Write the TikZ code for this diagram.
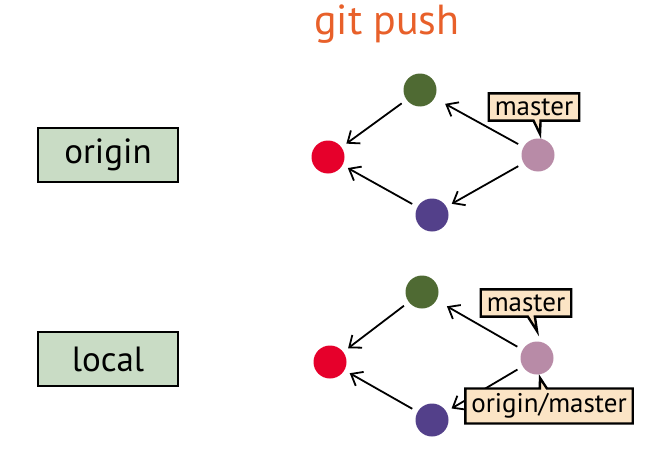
\documentclass[tikz,border=0pt]{standalone}
\usepackage{fontspec}
\setmainfont{PT Sans}
\usetikzlibrary{arrows.meta,shapes.callouts}
\definecolor{pushorange}{HTML}{E8602A}
\definecolor{cred}{HTML}{E6002B}
\definecolor{cgreen}{HTML}{4F6A33}
\definecolor{cpink}{HTML}{B88BA7}
\definecolor{cviolet}{HTML}{53408A}
\definecolor{repofill}{HTML}{C9DCC5}
\definecolor{tagfill}{HTML}{FBE4C5}
\tikzset{
  commit/.style={circle,minimum size=33pt,inner sep=0pt},
  repo/.style={draw=black,line width=2.6pt,fill=repofill,minimum width=140pt,
    minimum height=54pt,font=\fontsize{35}{38}\selectfont},
  tag/.style={rectangle callout,draw=black,line width=2.4pt,fill=tagfill,
    inner xsep=6pt,inner ysep=5pt,font=\fontsize{27}{30}\selectfont},
  link/.style={-{Straight Barb[length=10pt,width=16pt]},line width=1.8pt,
    shorten <=6pt,shorten >=6pt},
}
\begin{document}
\begin{tikzpicture}[x=1pt,y=-1pt]
  \useasboundingbox (0,0) rectangle (658,452);
  \node[text=pushorange,font=\fontsize{42}{46}\selectfont] (title) at (387,24) {git push};
  % repositories
  \node[repo] (origin) at (108,155) {origin};
  \node[repo] (local) at (108,359) {local};
  % origin history
  \draw
    (328,157) node[commit,fill=cred] (oa){}
    (420,90) node[commit,fill=cgreen] (ob){}
    (432,215) node[commit,fill=cviolet] (oc){}
    (538,155) node[commit,fill=cpink] (od){};
  % local history
  \draw
    (330,362) node[commit,fill=cred] (la){}
    (422,292) node[commit,fill=cgreen] (lb){}
    (432,420) node[commit,fill=cviolet] (lc){}
    (537,358) node[commit,fill=cpink] (ld){};
  \begin{scope}[link]
    \draw (ob) to (oa);
    \draw (oc) to (oa);
    \draw[shorten >=12pt] (od) to (ob);
    \draw (od) to (oc);
    \draw (lb) to (la);
    \draw (lc) to (la);
    \draw[shorten >=12pt] (ld) to (lb);
    \draw (ld) to (lc);
  \end{scope}
  % branch labels
  \node[tag,callout absolute pointer={(540,134)}] (omaster) at (534,107) {master};
  \node[tag,callout absolute pointer={(537,331)}] (lmaster) at (526,303) {master};
  \node[tag,callout absolute pointer={(540,378)}] (lorigin) at (549,406) {origin/master};
\end{tikzpicture}
\end{document}
